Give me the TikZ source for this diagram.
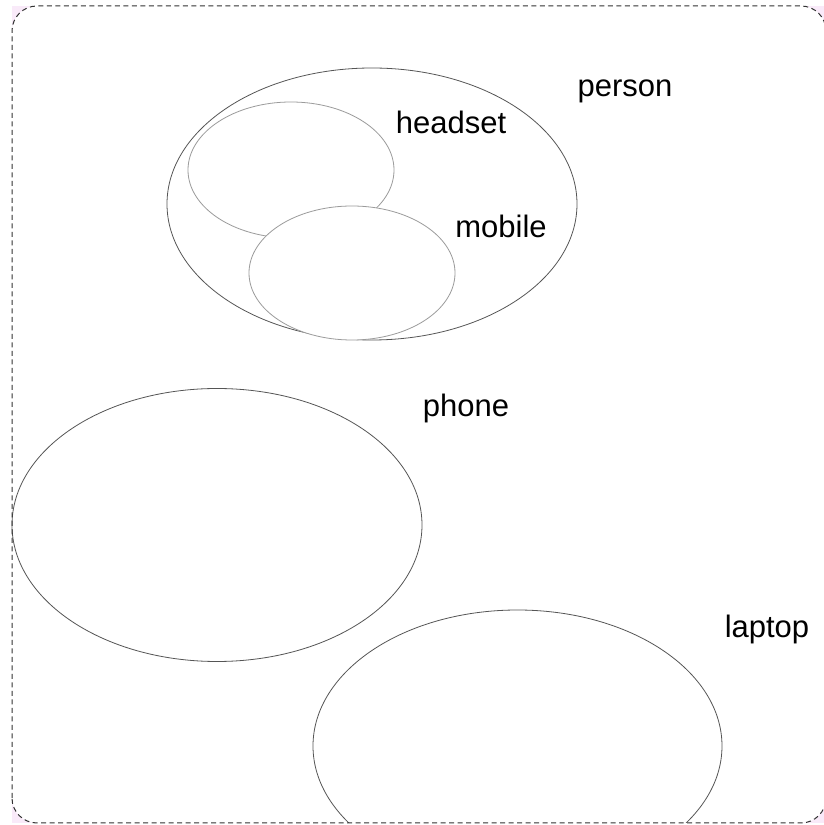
\documentclass[tikz,border=0pt]{standalone}
\usepackage{fontspec}
\setmainfont{Liberation Sans}
\usetikzlibrary{shapes.geometric}
\definecolor{cornertint}{RGB}{249,234,249}
\definecolor{setgray}{RGB}{85,85,85}
\definecolor{subgray}{RGB}{155,155,155}
\definecolor{framegray}{RGB}{50,50,50}
\begin{document}
\begin{tikzpicture}[x=1pt,y=1pt,
  setline/.style={ellipse, draw=setgray, line width=0.8pt, inner sep=0pt, outer sep=0pt},
  subline/.style={ellipse, draw=subgray, line width=0.8pt, fill=white, inner sep=0pt, outer sep=0pt},
  lbl/.style={font=\fontsize{31}{36}\selectfont, anchor=base, inner sep=0pt},
  framebox/.style={draw=framegray, line width=1pt, dash pattern=on 5pt off 3.5pt, rounded corners=25pt}]
\useasboundingbox (0,0) rectangle (824,825);
% tinted corners outside the rounded frame
\fill[cornertint] (12,2) rectangle (826,819);
\fill[white, rounded corners=25pt] (12,2) rectangle (826,819);

% sets
\node[setline, minimum width=410, minimum height=272] (person) at (372,621) {};
\node[subline, minimum width=206, minimum height=136] (headset) at (291,655) {};
\node[subline, minimum width=206, minimum height=134] (mobile) at (352,552) {};
\node[setline, minimum width=410, minimum height=273] (phone) at (217,300) {};
\begin{scope}
  \clip (12,2) rectangle (826,819);
  \node[setline, minimum width=409, minimum height=272] (laptop) at (517.5,79) {};
\end{scope}

% labels
\node[lbl] (personlbl) at (625,728) {person};
\node[lbl] (headsetlbl) at (451,691) {headset};
\node[lbl] (mobilelbl) at (501,587) {mobile};
\node[lbl] (phonelbl) at (466,408) {phone};
\node[lbl] (laptoplbl) at (767,187) {laptop};

% outer frame
\draw[framebox] (12,2) rectangle (826,819);
\end{tikzpicture}
\end{document}
